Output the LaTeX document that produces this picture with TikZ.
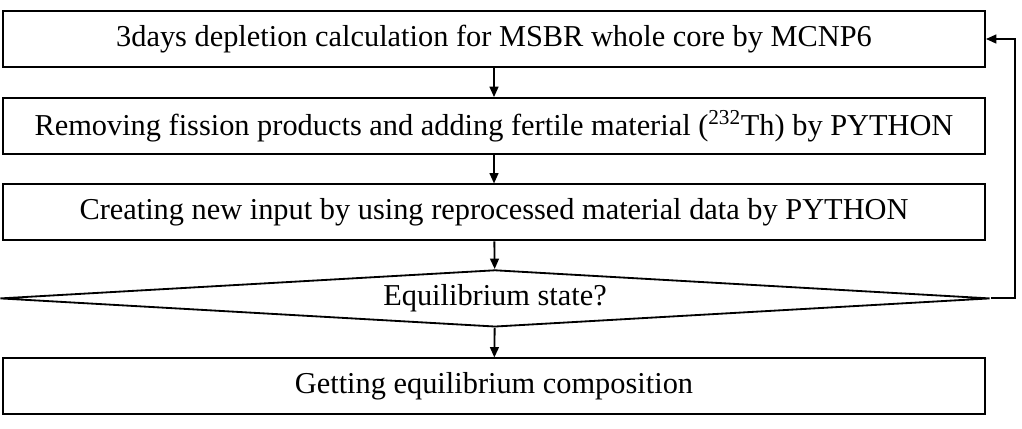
\documentclass[tikz,border=0pt]{standalone}
\usepackage{fontspec}
\setmainfont{Liberation Serif}
\usetikzlibrary{arrows.meta,shapes.geometric}

\tikzset{
	procbox/.style={draw, line width=1.3pt, minimum width=24.55cm, minimum height=1.4cm,
		inner sep=0pt, font=\fontsize{21.6}{24}\selectfont},
	decbox/.style={draw, diamond, aspect=17, line width=1.3pt, minimum width=24.75cm,
		minimum height=1.425cm, inner sep=0pt, font=\fontsize{21.6}{24}\selectfont},
	arr/.style={line width=1.3pt, -{Triangle[length=2.6mm,width=2.2mm]}}
}

\begin{document}
\begin{tikzpicture}

	\useasboundingbox (0,0) rectangle (25.55,-10.7);

	\node[procbox] (b1) at (12.35,-0.975) {3days depletion calculation for MSBR whole core by MCNP6};
	\node[procbox] (b2) at (12.35,-3.15) {Removing fission products and adding fertile material (\textsuperscript{232}Th) by PYTHON};
	\node[procbox] (b3) at (12.35,-5.31) {Creating new input by using reprocessed material data by PYTHON};
	\node[decbox] (dec) at (12.375,-7.46) {Equilibrium state?};
	\node[procbox] (b5) at (12.35,-9.66) {Getting equilibrium composition};

	\draw[arr] (b1) -- (b2);
	\draw[arr] (b2) -- (b3);
	\draw[arr] (b3) -- (dec);
	\draw[arr] (dec) -- (b5);

	% loop back
	\coordinate (fb) at (25.375,-0.975);
	\draw[arr] (dec.east) -| (fb) -- (b1.east);

\end{tikzpicture}
\end{document}
